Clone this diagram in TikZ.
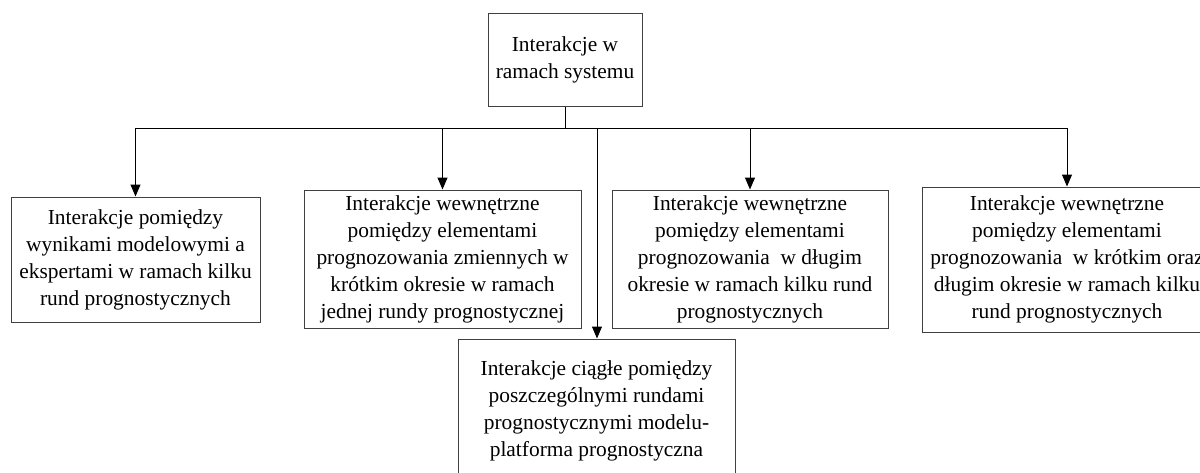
\documentclass[tikz,border=0pt]{standalone}
\usepackage{fontspec}
\setmainfont{Liberation Serif}
\usetikzlibrary{arrows.meta}
\tikzset{
  box/.style={draw=black!75, line width=1pt, fill=white, align=center, inner sep=0pt,
    font=\fontsize{21.4}{27}\selectfont},
  link/.style={draw=black, line width=1pt},
  arrowlink/.style={link, -{Triangle[length=12pt,width=10pt]}}
}
\begin{document}
\begin{tikzpicture}[x=1pt,y=-1pt]
  \useasboundingbox (0,0) rectangle (1200,472);
  \clip (0,0) rectangle (1200,472);
  % root node
  \node[box, minimum width=154pt, minimum height=93pt] (root) at (565,59.5)
    {Interakcje w\\ramach systemu};
  % child nodes
  \node[box, minimum width=249pt, minimum height=125pt] (a) at (135.5,259.5)
    {Interakcje pomiędzy\\wynikami modelowymi a\\ekspertami w ramach kilku\\rund prognostycznych};
  \node[box, minimum width=277pt, minimum height=138pt] (b) at (442.5,259)
    {Interakcje wewnętrzne\\pomiędzy elementami\\prognozowania zmiennych w\\krótkim okresie w ramach\\jednej rundy prognostycznej};
  \node[box, minimum width=276pt, minimum height=138pt] (c) at (750,259)
    {Interakcje wewnętrzne\\pomiędzy elementami\\prognozowania~ w długim\\okresie w ramach kilku rund\\prognostycznych};
  \node[box, minimum width=290pt, minimum height=145pt] (d) at (1067,259.5)
    {Interakcje wewnętrzne\\pomiędzy elementami\\prognozowania~ w krótkim oraz\\długim okresie w ramach kilku\\rund prognostycznych};
  \node[box, minimum width=277pt, minimum height=144pt] (e) at (596.5,411)
    {Interakcje ciągłe pomiędzy\\poszczególnymi rundami\\prognostycznymi modelu-\\platforma prognostyczna};
  % distribution bus
  \coordinate (bus) at (0,128);
  \coordinate (eTap) at (597,128);
  \draw[link] (root.south) -- (root.south |- bus);
  \draw[link] (bus -| a.north) -- (bus -| d.north);
  \draw[arrowlink] (bus -| a.north) -- (a.north);
  \draw[arrowlink] (bus -| b.north) -- (b.north);
  \draw[arrowlink] (bus -| c.north) -- (c.north);
  \draw[arrowlink] (bus -| d.north) -- (d.north);
  \draw[arrowlink] (eTap) -- (eTap |- e.north);
\end{tikzpicture}
\end{document}
